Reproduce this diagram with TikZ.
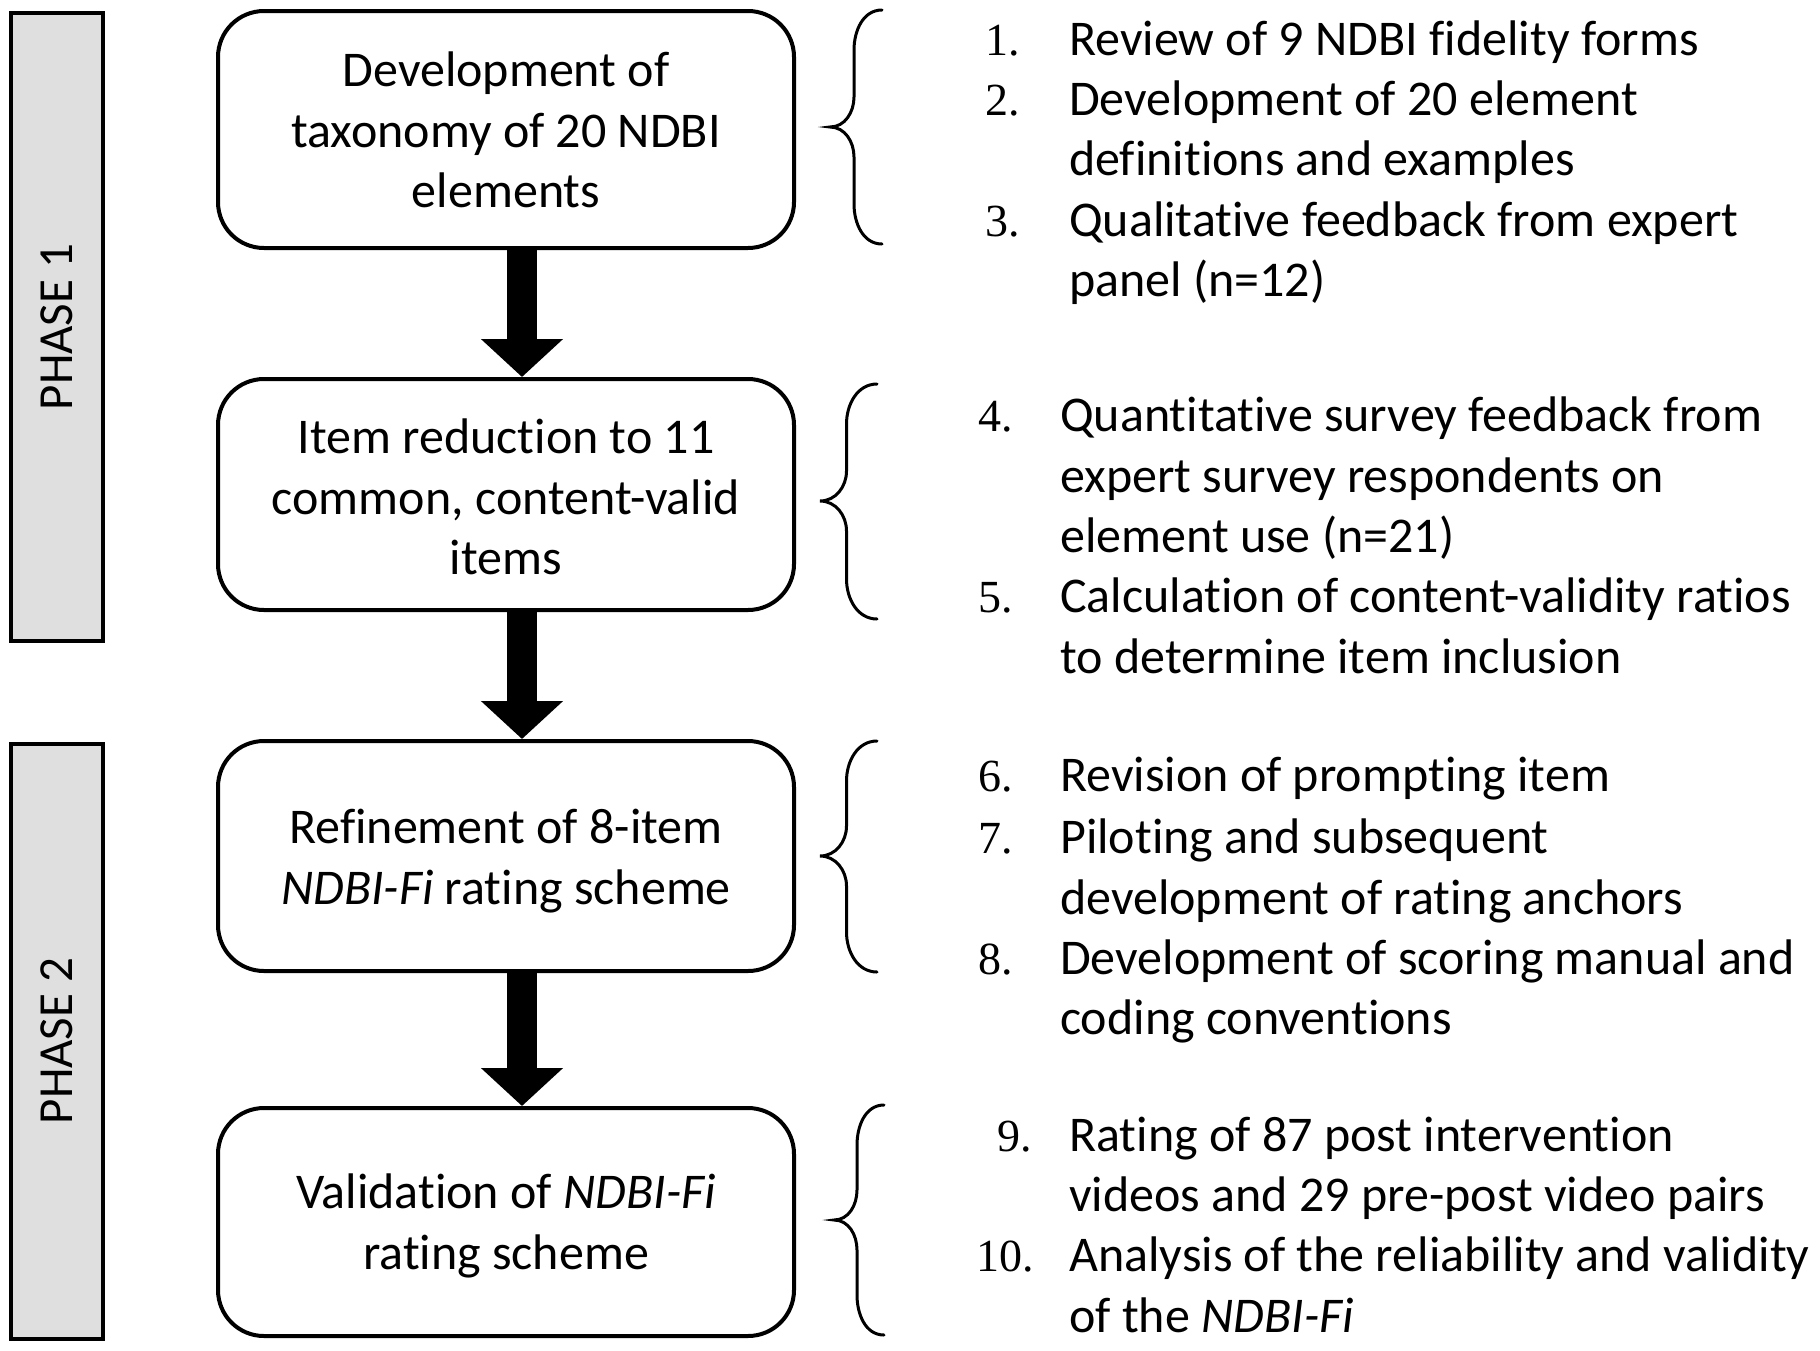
\documentclass[tikz,border=0pt]{standalone}
\usepackage{fontspec}
\setmainfont{Carlito}[Ligatures=CommonOff]
\newfontfamily\numfont{Liberation Serif}
\usetikzlibrary{arrows.meta,calc}
\begin{document}
\begin{tikzpicture}[x=1pt,y=-1pt,
  stepbox/.style={draw,line width=4pt,rounded corners=46pt,fill=white,inner sep=0pt},
  phasebar/.style={draw,line width=4pt,fill=gray!25,inner sep=0pt,minimum width=92pt},
  phasetext/.style={rotate=90,inner sep=0pt,font=\fontsize{49}{60}\selectfont},
  boxtext/.style={anchor=base,inner sep=0pt,font=\fontsize{50}{61}\selectfont},
  itemtext/.style={anchor=base west,inner sep=0pt,font=\fontsize{50}{61}\selectfont},
  itemnum/.style={anchor=base east,inner sep=0pt,font=\numfont\fontsize{46}{50}\selectfont},
  bigarrow/.style={line width=30pt,-{Triangle[width=80pt,length=38pt]}},
  bracestyle/.style={line width=3pt,line cap=round}
]
\useasboundingbox (0,0) rectangle (1820,1350);

% phase bars
\node[phasebar,minimum height=628pt] (p1) at (57,327) {};
\node[phasetext] (p1t) at (p1.center) {PHASE 1};
\node[phasebar,minimum height=595pt] (p2) at (57,1041) {};
\node[phasetext] (p2t) at (p2.center) {PHASE 2};

% boxes
\node[stepbox,minimum width=576pt,minimum height=237pt] (b1) at (506,129.5) {};
\node[stepbox,minimum width=576pt,minimum height=231pt] (b2) at (506,494.5) {};
\node[stepbox,minimum width=576pt,minimum height=230pt] (b3) at (506,856) {};
\node[stepbox,minimum width=576pt,minimum height=228pt] (b4) at (506,1222) {};

\node[boxtext] (b1a) at (506,86) {Development of};
\node[boxtext] (b1b) at (506,147) {taxonomy of 20 NDBI};
\node[boxtext] (b1c) at (506,207) {elements};
\node[boxtext] (b2a) at (506,453) {Item reduction to 11};
\node[boxtext] (b2b) at (506,514) {common, content-valid};
\node[boxtext] (b2c) at (506,574) {items};
\node[boxtext] (b3a) at (506,843) {Refinement of 8-item};
\node[boxtext] (b3b) at (506,904) {\textit{NDBI-Fi} rating scheme};
\node[boxtext] (b4a) at (506,1208) {Validation of \textit{NDBI-Fi}};
\node[boxtext] (b4b) at (506,1269) {rating scheme};

% arrows
\draw[bigarrow] ($(b1.south)+(16,0)$) -- ($(b2.north)+(16,0)$);
\draw[bigarrow] ($(b2.south)+(16,0)$) -- ($(b3.north)+(16,0)$);
\draw[bigarrow] ($(b3.south)+(16,0)$) -- ($(b4.north)+(16,0)$);

% braces: tip x, end x, top, bottom, mid
\newcommand{\mybrace}[5]{%
  \pgfmathsetmacro\bxm{(#1+#2)/2-2}%
  \pgfmathsetmacro\byA{#3+40}%
  \pgfmathsetmacro\byB{#5-30}%
  \pgfmathsetmacro\byC{#5+30}%
  \pgfmathsetmacro\byD{#4-40}%
  \draw[bracestyle] (#2,#3) to[out=180,in=90] (\bxm,\byA)
    -- (\bxm,\byB) to[out=-90,in=0] (#1,#5)
    to[out=0,in=90] (\bxm,\byC)
    -- (\bxm,\byD) to[out=-90,in=180] (#2,#4);}
\mybrace{830}{882}{10}{244}{127}
\mybrace{820}{877}{384}{619}{501}
\mybrace{820}{877}{741}{972}{856}
\mybrace{834}{884}{1105}{1335}{1220}

% list 1
\node[itemnum] (n1) at (1020,55) {1.};
\node[itemtext] (t1) at (1069,55) {Review of 9 NDBI fidelity forms};
\node[itemnum] (n2) at (1020,115) {2.};
\node[itemtext] (t2a) at (1069,115) {Development of 20 element};
\node[itemtext] (t2b) at (1069,175) {definitions and examples};
\node[itemnum] (n3) at (1020,236) {3.};
\node[itemtext] (t3a) at (1069,236) {Qualitative feedback from expert};
\node[itemtext] (t3b) at (1069,296) {panel (n=12)};

% list 2
\node[itemnum] (n4) at (1013,431) {4.};
\node[itemtext] (t4a) at (1060,431) {Quantitative survey feedback from};
\node[itemtext] (t4b) at (1060,492) {expert survey respondents on};
\node[itemtext] (t4c) at (1060,552) {element use (n=21)};
\node[itemnum] (n5) at (1013,612) {5.};
\node[itemtext] (t5a) at (1060,612) {Calculation of content-validity ratios};
\node[itemtext] (t5b) at (1060,673) {to determine item inclusion};

% list 3
\node[itemnum] (n6) at (1013,791) {6.};
\node[itemtext] (t6) at (1060,791) {Revision of prompting item};
\node[itemnum] (n7) at (1013,853) {7.};
\node[itemtext] (t7a) at (1060,853) {Piloting and subsequent};
\node[itemtext] (t7b) at (1060,914) {development of rating anchors};
\node[itemnum] (n8) at (1013,974) {8.};
\node[itemtext] (t8a) at (1060,974) {Development of scoring manual and};
\node[itemtext] (t8b) at (1060,1034) {coding conventions};

% list 4
\node[itemnum] (n9) at (1032,1151) {9.};
\node[itemtext] (t9a) at (1069,1151) {Rating of 87 post intervention};
\node[itemtext] (t9b) at (1069,1211) {videos and 29 pre-post video pairs};
\node[itemnum] (n10) at (1034,1271) {10.};
\node[itemtext] (t10a) at (1069,1271) {Analysis of the reliability and validity};
\node[itemtext] (t10b) at (1069,1332) {of the \textit{NDBI-Fi}};
\end{tikzpicture}
\end{document}
